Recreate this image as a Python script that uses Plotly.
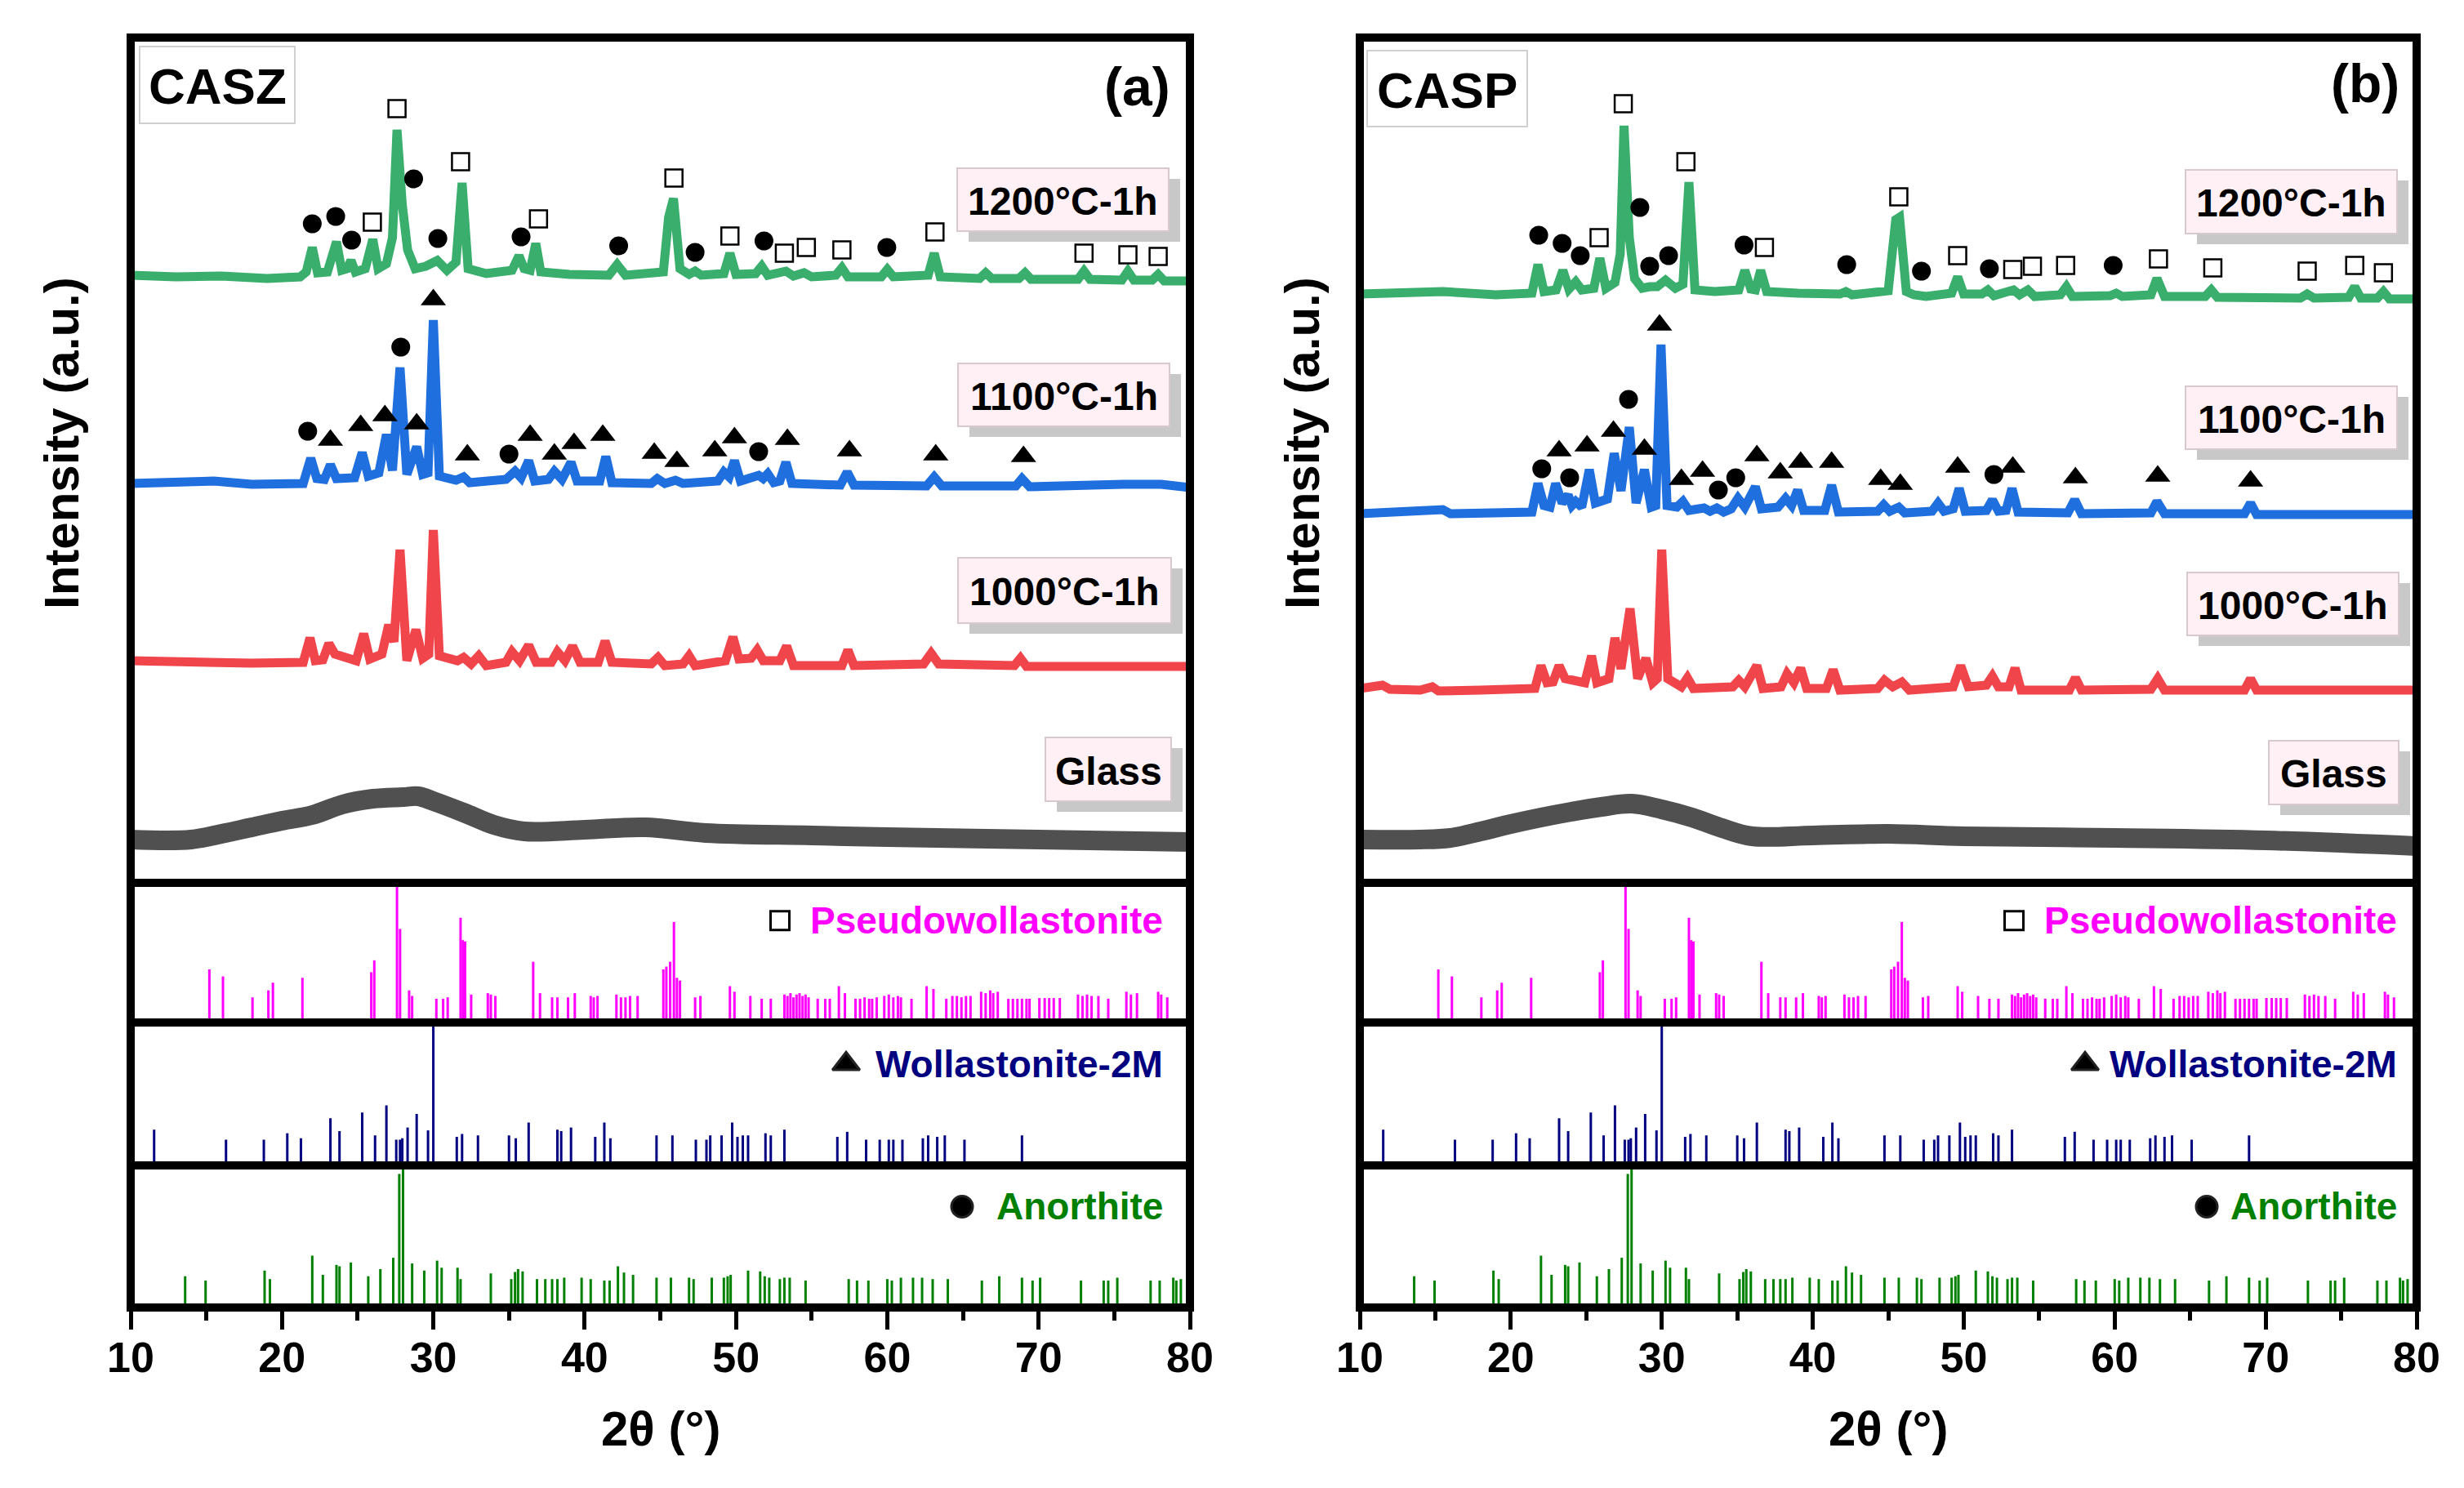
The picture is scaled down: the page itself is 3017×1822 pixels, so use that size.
import plotly.graph_objects as go

W, H = 3017, 1822

# ---- measured XRD traces, 2theta (deg) vs intensity (a.u., offset) ----
# CASZ (panel a)
casz_1200_tt = [10, 13, 16, 19, 21.2, 21.6, 22.0, 22.35, 23.0, 23.6, 23.95, 24.3, 24.56, 24.85,
                25.5, 26.0, 26.35, 26.9, 27.3, 27.6, 27.95, 28.3, 28.8, 29.5, 30.26, 30.9, 31.5,
                31.9, 32.3, 33.5, 35.2, 35.66, 36.0, 36.4, 36.77, 37.1, 39, 41.6, 42.15, 42.7,
                45.2, 45.55, 45.87, 46.3, 46.9, 47.3, 47.7, 49.2, 49.6, 50.0, 51.3, 51.7, 52.1,
                53.3, 53.8, 54.5, 55.0, 56.6, 57.0, 57.4, 59.6, 60.0, 60.4, 62.7, 63.1, 63.5,
                66.1, 66.5, 66.9, 68.7, 69.1, 69.5, 72.6, 73.0, 73.4, 75.5, 75.9, 76.3, 77.5,
                77.9, 78.3, 80]
casz_1200_int = [744, 742, 743, 740, 742, 748, 778, 747, 748, 785, 750, 752, 762, 748,
                 752, 788, 752, 758, 790, 922, 830, 775, 752, 755, 762, 750, 760,
                 857, 752, 746, 750, 768, 752, 750, 783, 748, 745, 744, 757, 744,
                 748, 815, 838, 752, 745, 749, 744, 746, 771, 745, 746, 755, 744,
                 749, 743, 747, 742, 744, 753, 742, 742, 751, 742, 744, 771, 742,
                 740, 747, 740, 740, 747, 739, 739, 749, 739, 738, 749, 738, 738,
                 745, 737, 737]

casz_1100_tt = [10, 13, 15.5, 18, 21.4, 21.9, 22.3, 22.8, 23.2, 23.6, 24.8, 25.3, 25.7, 26.4,
                26.9, 27.3, 27.8, 28.25, 28.9, 29.3, 29.65, 30.0, 30.4, 31.5, 32.0, 32.4, 34.8,
                35.4, 35.8, 36.3, 36.7, 37.6, 38.0, 38.5, 39.1, 39.5, 41.0, 41.4, 41.8, 44.4,
                44.8, 45.3, 46.0, 46.5, 48.8, 49.2, 49.55, 49.9, 50.3, 51.5, 51.8, 52.1, 52.5,
                52.9, 53.3, 53.7, 56.9, 57.35, 57.8, 62.6, 63.1, 63.6, 68.5, 68.9, 69.4, 75.6,
                78.1, 80]
casz_1100_int = [489, 490, 492, 488, 489, 520, 495, 494, 512, 495, 496, 527, 498, 502,
                 549, 505, 631, 500, 534, 500, 502, 689, 498, 493, 497, 490, 494,
                 504, 496, 517, 492, 494, 504, 494, 515, 492, 492, 522, 490, 489,
                 495, 489, 493, 489, 492, 503, 497, 517, 492, 499, 495, 501, 490,
                 492, 515, 489, 487, 503, 487, 486, 497, 486, 486, 495, 485, 488,
                 488, 484]

casz_1000_tt = [10, 14, 18, 21.4, 21.85, 22.2, 22.7, 23.1, 23.5, 24.9, 25.4, 25.8, 26.6, 27.05,
                27.4, 27.8, 28.25, 28.85, 29.3, 29.7, 30.0, 30.4, 31.6, 32.0, 32.5, 33.0, 33.5,
                34.8, 35.2, 35.7, 36.3, 36.8, 37.8, 38.2, 38.7, 39.2, 39.7, 40.9, 41.35, 41.8,
                44.4, 44.85, 45.3, 46.5, 46.9, 47.3, 49.3, 49.8, 50.2, 51.0, 51.4, 51.8, 52.9,
                53.35, 53.8, 57.0, 57.4, 57.8, 62.4, 62.9, 63.4, 68.4, 68.8, 69.2, 80]
casz_1000_int = [272, 270, 269, 270, 300, 272, 273, 293, 280, 272, 305, 274, 280, 316,
                 295, 408, 272, 310, 275, 280, 432, 278, 272, 276, 268, 278, 266,
                 270, 283, 272, 291, 270, 270, 283, 272, 290, 270, 270, 296, 270,
                 268, 276, 266, 268, 278, 266, 272, 301, 274, 275, 285, 272, 272,
                 290, 266, 266, 285, 266, 268, 281, 268, 266, 275, 265, 265]

casz_glass_tt = [10, 14, 16, 18, 20, 22, 24, 26, 28, 29, 30, 32, 34, 36, 40, 44, 48, 55, 60, 70, 80]
casz_glass_int = [53, 53, 60, 68, 76, 83, 96, 103, 105, 106, 100, 86, 71, 63, 65, 68, 61, 58, 56, 53, 50]

# CASP (panel b)
casp_1200_tt = [10, 13, 15.5, 19, 21.4, 21.8, 22.2, 23.0, 23.45, 23.85, 24.3, 24.7, 25.5, 25.9,
                26.3, 26.9, 27.25, 27.5, 27.85, 28.2, 28.7, 29.2, 29.7, 30.25, 30.9, 31.4, 31.8,
                32.2, 33.5, 35.1, 35.5, 35.9, 36.2, 36.55, 36.95, 39, 41.8, 42.2, 42.6, 45.0,
                45.5, 45.75, 46.2, 46.7, 47.1, 47.5, 49.2, 49.6, 50.0, 51.2, 51.6, 52.0, 53.3,
                53.7, 54.25, 54.7, 56.4, 56.8, 57.2, 59.7, 60.1, 60.5, 62.4, 62.8, 63.3, 66.0,
                66.4, 66.8, 72.3, 72.75, 73.2, 75.5, 75.9, 76.3, 77.4, 77.8, 78.2, 80]
casp_1200_int = [721, 722, 724, 720, 722, 757, 724, 726, 750, 727, 736, 726, 728, 765,
                 728, 735, 770, 927, 790, 740, 728, 730, 730, 738, 728, 733, 858,
                 726, 724, 726, 750, 727, 726, 750, 724, 722, 721, 724, 720, 725,
                 812, 815, 724, 720, 720, 718, 722, 742, 721, 721, 726, 719, 726,
                 720, 726, 718, 720, 730, 718, 719, 722, 718, 720, 740, 718, 718,
                 726, 717, 716, 721, 716, 717, 730, 716, 716, 724, 715, 715]

casp_1100_tt = [10, 13, 15.5, 16, 18, 21.4, 21.8, 22.2, 22.6, 22.97, 23.4, 23.8, 24.05, 24.3,
                24.7, 25.2, 25.6, 26.4, 26.85, 27.3, 27.85, 28.3, 28.85, 29.3, 29.6, 29.95, 30.35,
                31.0, 31.4, 31.8, 32.8, 33.2, 33.65, 34.1, 34.6, 35.05, 35.5, 36.2, 36.6, 37.7,
                38.2, 38.6, 39.0, 39.4, 40.8, 41.25, 41.7, 44.3, 44.7, 45.1, 45.7, 46.1, 47.9,
                48.3, 48.7, 49.3, 49.7, 50.1, 51.5, 51.9, 52.3, 52.8, 53.2, 53.6, 56.9, 57.35,
                57.8, 62.4, 62.8, 63.3, 68.6, 69.0, 69.4, 80]
casp_1100_int = [452, 454, 457, 452, 453, 454, 489, 462, 460, 489, 465, 475, 462, 467,
                 460, 506, 465, 470, 526, 480, 558, 465, 506, 460, 462, 659, 462,
                 460, 467, 456, 459, 455, 459, 454, 458, 471, 460, 485, 458, 460,
                 471, 462, 481, 456, 456, 487, 454, 455, 463, 455, 460, 453, 455,
                 465, 455, 458, 483, 455, 456, 469, 455, 456, 483, 454, 453, 469,
                 452, 453, 467, 452, 452, 465, 451, 451]

casp_1000_tt = [10, 11.5, 12, 14, 14.8, 15.2, 18, 21.6, 22.0, 22.4, 22.8, 23.2, 23.6, 24.9,
                25.35, 25.7, 26.5, 26.9, 27.3, 27.9, 28.4, 28.95, 29.4, 29.7, 30.0, 30.4, 31.3,
                31.7, 32.1, 34.7, 35.1, 35.5, 36.3, 36.7, 37.9, 38.3, 38.75, 39.2, 39.6, 40.9,
                41.35, 41.8, 44.3, 44.75, 45.3, 45.9, 46.4, 49.3, 49.8, 50.3, 51.5, 51.9, 52.3,
                53.0, 53.4, 53.8, 57.0, 57.4, 57.8, 62.4, 62.85, 63.3, 68.6, 69.0, 69.4, 80]
casp_1000_int = [238, 242, 237, 236, 240, 235, 236, 238, 266, 245, 246, 266, 250, 245,
                 278, 245, 250, 300, 262, 336, 250, 275, 245, 250, 408, 250, 240,
                 251, 238, 240, 248, 240, 266, 238, 240, 256, 245, 263, 238, 238,
                 261, 236, 238, 248, 240, 246, 236, 240, 266, 240, 242, 253, 240,
                 240, 263, 236, 236, 251, 236, 237, 250, 236, 236, 250, 236, 236]

casp_glass_tt = [10, 14, 16, 18, 20, 22, 24, 26, 28, 30, 32, 34, 36, 40, 45, 50, 60, 70, 80]
casp_glass_int = [53, 53, 55, 63, 72, 80, 87, 93, 97, 90, 80, 67, 57, 58, 60, 57, 55, 52, 45]

# ---- peak markers (2theta, y) ----
casz_circle_tt = [22.0, 23.55, 24.6, 28.7, 30.3, 35.8, 42.25, 47.3, 51.85, 59.97,
                  21.7, 27.85, 35.0, 51.5]
casz_circle_y = [807, 816, 787, 862, 789, 791, 780, 772, 786, 778,
                 553, 656, 525, 528]
casz_square_tt = [25.97, 27.6, 31.8, 36.95, 45.9, 49.6, 53.2, 54.65, 57.0, 63.15, 73.0, 75.9, 77.9]
casz_square_y = [809, 948, 883, 813, 863, 792, 771, 778, 775, 797, 771, 769, 767]
casz_tri_tt = [23.2, 25.2, 26.8, 28.9, 30.0, 32.25, 36.4, 38.0, 39.3, 41.2, 44.6, 46.1,
               48.6, 49.9, 53.4, 57.5, 63.2, 69.0]
casz_tri_y = [542, 560, 572, 562, 714, 524, 548, 525, 538, 548, 526, 516,
              529, 545, 543, 529, 524, 522]

casp_circle_tt = [21.85, 23.4, 24.6, 28.55, 29.2, 30.45, 35.45, 42.25, 47.2, 51.7, 59.9,
                  22.05, 23.9, 27.8, 33.75, 34.9, 52.0]
casp_circle_y = [793, 783, 768, 827, 755, 768, 781, 757, 749, 752, 756,
                 507, 496, 592, 481, 496, 500]
casp_square_tt = [25.85, 27.45, 31.6, 36.8, 45.7, 49.6, 53.25, 54.55, 56.75, 62.9, 66.5,
                  72.75, 75.9, 77.8]
casp_square_y = [790, 954, 883, 778, 840, 768, 751, 755, 756, 764, 753, 749, 756, 747]
casp_tri_tt = [23.2, 25.05, 26.8, 28.85, 29.85, 31.3, 32.7, 36.3, 37.85, 39.2, 41.25, 44.5,
               45.8, 49.6, 53.25, 57.4, 62.85, 69.0]
casp_tri_y = [529, 535, 553, 531, 683, 494, 504, 523, 502, 515, 515, 494,
              488, 509, 509, 496, 498, 492]

# ---- reference patterns (2theta, relative intensity %) ----
pseudo_pos = [15.2, 16.1, 18.05, 19.1, 19.4, 21.35, 25.9, 26.1, 27.6, 27.8,
              28.4, 28.6, 30.2, 30.65, 30.95, 31.8, 31.95, 32.1, 32.5, 33.6,
              33.8, 34.1, 36.6, 37.05, 37.85, 38.2, 38.9, 39.35, 40.4, 40.6,
              40.85, 42.1, 42.4, 42.7, 43.0, 43.5, 45.2, 45.4, 45.65, 45.9,
              46.1, 46.3, 47.3, 47.65, 49.6, 49.9, 50.95, 51.7, 52.3, 53.2,
              53.4, 53.6, 53.8, 54.0, 54.2, 54.4, 54.6, 54.8, 55.4, 55.9,
              56.2, 56.8, 57.2, 57.9, 58.2, 58.5, 58.8, 59.0, 59.3, 59.8,
              60.1, 60.4, 60.7, 60.9, 61.6, 62.6, 63.05, 63.9, 64.3, 64.6,
              64.9, 65.2, 65.5, 66.2, 66.5, 66.8, 67.0, 67.3, 68.0, 68.3,
              68.6, 68.9, 69.2, 69.4, 70.05, 70.4, 70.7, 71.0, 71.4, 72.6,
              72.9, 73.2, 73.5, 73.95, 74.6, 75.8, 76.1, 76.5, 77.9, 78.1, 78.5]
pseudo_int = [38, 33, 18, 23, 28.5, 32, 36, 44.5, 100, 67,
              23, 19, 17, 17, 18, 75, 59, 58, 20, 21,
              20, 19, 43.5, 21, 18, 18, 18, 21, 19, 18,
              19, 20, 18, 18, 19, 19, 38, 40, 43.5, 72,
              32, 30, 18, 19, 26, 22, 19, 17, 17, 20,
              19, 21, 18, 20, 21, 19, 20, 18, 17, 17,
              17, 26, 21, 17, 17, 18, 17, 17, 18, 19,
              20, 18, 19, 18, 17, 26, 24, 17, 19, 19,
              18, 19, 19, 22, 21, 23, 21, 22, 17, 17,
              17, 17, 17, 17, 17.5, 17.5, 17.5, 17.5, 17.5, 20,
              19, 20, 19, 19, 17, 22, 20, 21, 22, 20, 18]

wol_pos = [11.55, 16.3, 18.8, 20.35, 21.25, 23.2, 23.8, 25.3, 26.15, 26.9,
           27.55, 27.8, 27.95, 28.3, 28.9, 29.65, 30.0, 31.55, 31.9, 32.95,
           35.0, 35.45, 36.3, 38.2, 38.45, 39.1, 40.7, 41.3, 41.7, 44.75,
           45.8, 47.35, 48.05, 48.3, 49.05, 49.75, 50.1, 50.45, 50.8, 51.95,
           52.3, 53.2, 56.7, 57.35, 58.6, 59.5, 60.1, 60.4, 61.0, 62.35,
           62.7, 63.3, 63.8, 65.1, 68.9]
wol_int = [25, 18, 18, 22.5, 19, 33, 24, 37, 21, 42,
           18, 18, 19, 26.5, 36, 24.5, 100, 20, 22, 21,
           21, 19, 30, 25, 24, 26.5, 20, 30, 19, 21,
           21, 18, 18, 21, 21, 30, 20, 21, 21, 22.5,
           21, 25, 20, 23.5, 18, 18, 18, 18, 18, 19,
           21, 20, 21, 18, 21]

ano_pos = [13.6, 14.95, 18.85, 19.2, 22.0, 22.7, 23.6, 23.8, 24.55, 25.7,
           26.5, 27.35, 27.75, 28.0, 28.6, 29.4, 30.25, 30.55, 31.6, 31.8,
           33.8, 35.15, 35.4, 35.6, 35.9, 36.85, 37.4, 37.85, 38.2, 38.65,
           39.8, 40.4, 41.3, 41.65, 42.2, 42.6, 43.2, 44.75, 45.7, 46.9,
           47.2, 48.4, 49.2, 49.45, 49.65, 50.8, 51.6, 51.9, 52.2, 52.9,
           53.2, 53.55, 54.6, 57.45, 58.0, 58.75, 60.0, 60.3, 60.9, 61.7,
           62.3, 63.0, 64.0, 66.25, 67.4, 68.9, 69.6, 70.1, 72.8, 74.3,
           74.6, 75.2, 77.4, 78.0, 78.9, 79.1, 79.4]
ano_int = [22, 19, 26, 20, 36.5, 23, 30, 29, 31.7, 22,
           27, 35, 94, 100, 31, 26, 33, 28, 28, 20,
           24, 20, 25, 27, 25.4, 20, 20, 20, 20, 21,
           21, 20, 19, 19, 29, 24.6, 23, 21, 21, 21,
           20, 21, 21, 22, 23, 26, 25.4, 22, 21, 20,
           21, 21, 19, 20, 19, 19, 20, 19, 21, 21,
           21, 20, 20, 19, 22, 21, 19, 21, 19, 19,
           19, 21, 19, 19, 21, 19, 20]

sample_labels = ["1200°C-1h", "1100°C-1h", "1000°C-1h", "Glass"]
phase_names = ["Pseudowollastonite", "Wollastonite-2M", "Anorthite"]

FONT = "Liberation Sans, Arial, sans-serif"
C1200, C1100, C1000, CGLASS = "#3aae6c", "#1f6fde", "#f0454a", "#505050"
PSEUDO_C, WOL_C, ANO_C = "#ff00ff", "#000080", "#008000"


def px(x):
    return x / W


def py(y):
    return 1 - y / H


def sticks(pos, vals):
    xs, ys = [], []
    for p, v in zip(pos, vals):
        xs += [p, p, None]
        ys += [0, v, None]
    return xs, ys


def label(x, y, text, size, color="black", xanchor="center", angle=0):
    # annotation placed by pixel position (from the top-left corner)
    return dict(x=px(x), y=py(y), xref="paper", yref="paper", xanchor=xanchor, yanchor="middle",
                showarrow=False, textangle=angle, text="<b>%s</b>" % text,
                font=dict(family=FONT, size=size, color=color))


def main():
    fig = go.Figure()

    panels = [
        dict(x0=152, x1=1449, name="CASZ", tag="(a)", tagx=1384, tagy=98,
             namebox=(163, 49, 353, 143),
             traces=[(casz_1200_tt, casz_1200_int, C1200, 11), (casz_1100_tt, casz_1100_int, C1100, 11),
                     (casz_1000_tt, casz_1000_int, C1000, 11), (casz_glass_tt, casz_glass_int, CGLASS, 24)],
             circles=(casz_circle_tt, casz_circle_y), squares=(casz_square_tt, casz_square_y),
             tris=(casz_tri_tt, casz_tri_y),
             boxes=[(1164, 198, 1423, 275), (1165, 437, 1424, 514), (1165, 675, 1426, 755), (1272, 895, 1426, 973)],
             legend_right=1418, sym_x=[947, 1028, 1170], ytitle_x=67),
        dict(x0=1657, x1=2951, name="CASP", tag="(b)", tagx=2888, tagy=94,
             namebox=(1666, 54, 1862, 147),
             traces=[(casp_1200_tt, casp_1200_int, C1200, 11), (casp_1100_tt, casp_1100_int, C1100, 11),
                     (casp_1000_tt, casp_1000_int, C1000, 11), (casp_glass_tt, casp_glass_int, CGLASS, 24)],
             circles=(casp_circle_tt, casp_circle_y), squares=(casp_square_tt, casp_square_y),
             tris=(casp_tri_tt, casp_tri_y),
             boxes=[(2668, 200, 2927, 278), (2668, 465, 2927, 542), (2670, 693, 2929, 770), (2770, 899, 2929, 977)],
             legend_right=2929, sym_x=[2458, 2545, 2694], ytitle_x=1586),
    ]

    # vertical pixel bands: main, pseudo, wollastonite, anorthite
    bands = [(38, 1073), (1073, 1244), (1244, 1419), (1419, 1593)]
    shapes, annotations = [], []
    layout = {}

    for k, p in enumerate(panels):
        base = 4 * k
        for j, (top, bot) in enumerate(bands):
            i = base + j + 1
            sfx = "" if i == 1 else str(i)
            is_bottom = j == 3
            layout["xaxis" + sfx] = dict(
                domain=[px(p["x0"]), px(p["x1"])], range=[10, 80], anchor="y" + sfx,
                automargin=False, showgrid=False, zeroline=False, showline=False,
                showticklabels=is_bottom, ticks="outside" if is_bottom else "",
                dtick=10, tick0=10, ticklen=26, tickwidth=5, tickcolor="black",
                ticklabelstandoff=-10,
                tickfont=dict(family=FONT, size=52, color="black", weight="bold"),
                minor=dict(ticks="outside" if is_bottom else "", dtick=5, ticklen=15,
                           tickwidth=5, tickcolor="black", showgrid=False),
            )
            layout["yaxis" + sfx] = dict(
                domain=[py(bot), py(top)], range=[0, 1035] if j == 0 else [0, 100],
                anchor="x" + sfx, automargin=False, showgrid=False, zeroline=False,
                showline=False, showticklabels=False, ticks="",
            )

        m = "" if base == 0 else str(base + 1)
        for tt, inten, col, lw in p["traces"]:
            shape = "spline" if col == CGLASS else "linear"
            fig.add_trace(go.Scatter(x=tt, y=inten, mode="lines", xaxis="x" + m, yaxis="y" + m,
                                     line=dict(color=col, width=lw, shape=shape), showlegend=False))
        fig.add_trace(go.Scatter(x=p["circles"][0], y=p["circles"][1], mode="markers",
                                 xaxis="x" + m, yaxis="y" + m, showlegend=False,
                                 marker=dict(symbol="circle", size=23, color="black")))
        fig.add_trace(go.Scatter(x=p["tris"][0], y=p["tris"][1], mode="markers",
                                 xaxis="x" + m, yaxis="y" + m, showlegend=False,
                                 marker=dict(symbol="triangle-up", size=27, color="black")))
        fig.add_trace(go.Scatter(x=p["squares"][0], y=p["squares"][1], mode="markers",
                                 xaxis="x" + m, yaxis="y" + m, showlegend=False,
                                 marker=dict(symbol="square-open", size=21, color="black",
                                             line=dict(width=2.5, color="#222222"))))

        # reference stick patterns
        for j, (pos, vals, col) in enumerate([(pseudo_pos, pseudo_int, PSEUDO_C),
                                              (wol_pos, wol_int, WOL_C),
                                              (ano_pos, ano_int, ANO_C)]):
            sfx = str(base + j + 2)
            xs, ys = sticks(pos, vals)
            fig.add_trace(go.Scatter(x=xs, y=ys, mode="lines", xaxis="x" + sfx, yaxis="y" + sfx,
                                     line=dict(color=col, width=3), showlegend=False))

        # phase legend symbols + names
        syms = [("square-open", 23), ("triangle-up", 29), ("circle", 26)]
        span = p["x1"] - p["x0"]
        for j, (name, col) in enumerate(zip(phase_names, [PSEUDO_C, WOL_C, ANO_C])):
            top, bot = bands[j + 1]
            yc = top + (bot - top) * (0.27 if j == 0 else 0.29)
            annotations.append(label(p["legend_right"], yc, name, 46, col, xanchor="right"))
            sym, size = syms[j]
            sym_tt = 10 + (p["sym_x"][j] - p["x0"]) / span * 70
            sym_val = (bot - yc) / (bot - top) * 100
            fig.add_trace(go.Scatter(
                x=[sym_tt], y=[sym_val], xaxis="x" + str(base + j + 2),
                yaxis="y" + str(base + j + 2), mode="markers", showlegend=False,
                marker=dict(symbol=sym, size=size, color="black", line=dict(width=3, color="#222222")),
            ))

        # frame and dividers
        shapes.append(dict(type="rect", xref="paper", yref="paper", x0=px(p["x0"]), x1=px(p["x1"]),
                           y0=py(1593), y1=py(38), line=dict(color="black", width=10), layer="above"))
        for yy in (1073, 1244, 1419):
            shapes.append(dict(type="line", xref="paper", yref="paper", x0=px(p["x0"]), x1=px(p["x1"]),
                               y0=py(yy), y1=py(yy), line=dict(color="black", width=10), layer="above"))

        # sample label boxes with drop shadow
        for (bx0, by0, bx1, by1), lab in zip(p["boxes"], sample_labels):
            shapes.append(dict(type="rect", xref="paper", yref="paper", x0=px(bx0 + 14), x1=px(bx1 + 14),
                               y0=py(by1 + 13), y1=py(by0 + 13), fillcolor="#c8c8c8",
                               line=dict(width=0), layer="above"))
            shapes.append(dict(type="rect", xref="paper", yref="paper", x0=px(bx0), x1=px(bx1),
                               y0=py(by1), y1=py(by0), fillcolor="#fff0f5",
                               line=dict(color="#d8c8d0", width=2), layer="above"))
            annotations.append(label((bx0 + bx1) / 2, (by0 + by1) / 2 + 2, lab, 48))

        nx0, ny0, nx1, ny1 = p["namebox"]
        shapes.append(dict(type="rect", xref="paper", yref="paper", x0=px(nx0), x1=px(nx1),
                           y0=py(ny1), y1=py(ny0), fillcolor="white",
                           line=dict(color="#d0d0d0", width=2), layer="above"))
        annotations.append(label((nx0 + nx1) / 2, (ny0 + ny1) / 2 + 2, p["name"], 62))
        annotations.append(label(p["tagx"], p["tagy"], p["tag"], 66))

        # axis titles
        annotations.append(label(p["ytitle_x"], 535, "Intensity (a.u.)", 60, angle=-90))
        annotations.append(label((p["x0"] + p["x1"]) / 2, 1741, "2θ (°)", 60))

    fig.update_layout(
        width=W, height=H, margin=dict(l=0, r=0, t=0, b=0, autoexpand=False),
        paper_bgcolor="white", plot_bgcolor="white",
        shapes=shapes, annotations=annotations, showlegend=False,
        **layout,
    )
    fig.write_html("out.html")


if __name__ == "__main__":
    main()
